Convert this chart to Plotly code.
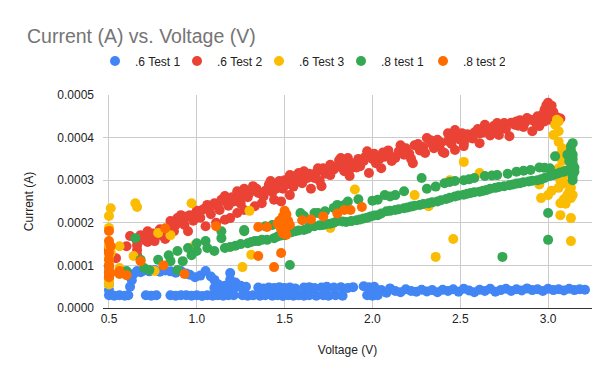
import plotly.graph_objects as go

# ---------------- data (Voltage V, Current A) ----------------
blue_pts = [
    (0.50, 3.0e-5), (0.50, 4.2e-5), (0.50, 5.6e-5), (0.50, 7.0e-5), (0.50, 8.4e-5), (0.50, 9.8e-5), (0.50, 1.45e-4),
    (0.53, 2.9e-5), (0.56, 3.0e-5), (0.59, 2.9e-5), (0.61, 3.0e-5),
    (0.71, 3.0e-5), (0.74, 2.9e-5), (0.77, 3.0e-5),
    (0.85, 3.0e-5), (0.88, 2.9e-5), (0.91, 3.0e-5), (0.94, 3.0e-5), (0.97, 2.9e-5), (1.00, 3.0e-5),
    (1.03, 2.8e-5), (1.06, 3.0e-5), (1.09, 2.9e-5), (1.12, 3.0e-5), (1.15, 2.9e-5), (1.18, 3.0e-5),
    (1.21, 3.0e-5), (1.26, 3.0e-5), (1.29, 2.9e-5), (1.32, 3.0e-5), (1.36, 2.9e-5), (1.39, 3.0e-5),
    (1.43, 2.9e-5), (1.46, 3.0e-5), (1.49, 2.8e-5), (1.52, 3.0e-5), (1.55, 2.9e-5),
    (1.58, 3.0e-5), (1.61, 2.9e-5), (1.64, 3.0e-5), (1.68, 2.9e-5), (1.72, 3.0e-5), (1.75, 2.9e-5),
    (1.79, 3.0e-5), (1.83, 2.9e-5), (1.97, 3.0e-5), (2.00, 2.9e-5), (2.03, 3.0e-5),
    (1.10, 4.7e-5), (1.14, 4.8e-5), (1.18, 4.6e-5), (1.22, 4.8e-5), (1.26, 4.7e-5),
    (1.35, 4.8e-5), (1.38, 4.6e-5), (1.41, 4.8e-5), (1.44, 4.7e-5), (1.47, 4.9e-5), (1.50, 4.7e-5),
    (1.53, 4.8e-5), (1.56, 4.6e-5), (1.61, 4.8e-5), (1.64, 4.9e-5), (1.67, 4.7e-5), (1.71, 4.8e-5),
    (1.74, 5.0e-5), (1.78, 4.8e-5), (1.82, 4.9e-5), (1.86, 4.7e-5), (1.89, 4.9e-5),
    (1.95, 5.1e-5), (1.98, 4.9e-5), (2.01, 5.0e-5),
    (2.05, 4.2e-5), (2.08, 3.6e-5), (2.10, 4.6e-5), (2.13, 4.0e-5), (2.16, 3.7e-5), (2.19, 4.4e-5),
    (2.22, 4.0e-5), (2.25, 3.8e-5), (2.28, 4.3e-5), (2.31, 3.9e-5), (2.34, 4.2e-5), (2.37, 3.7e-5),
    (2.40, 4.3e-5), (2.43, 4.0e-5), (2.46, 4.4e-5), (2.49, 3.8e-5), (2.52, 4.5e-5), (2.55, 4.1e-5),
    (2.58, 3.7e-5), (2.61, 4.3e-5), (2.64, 4.0e-5), (2.67, 4.5e-5), (2.70, 3.8e-5), (2.73, 4.2e-5),
    (2.76, 4.5e-5), (2.79, 4.0e-5), (2.82, 4.4e-5), (2.85, 4.1e-5), (2.88, 4.6e-5), (2.91, 4.2e-5),
    (2.94, 4.4e-5), (2.97, 4.0e-5), (3.00, 4.5e-5), (3.03, 4.2e-5), (3.06, 4.4e-5), (3.09, 4.1e-5),
    (3.12, 4.5e-5), (3.15, 4.2e-5), (3.18, 4.4e-5), (3.21, 4.3e-5),
    (0.62, 5.0e-5), (0.63, 6.5e-5), (0.64, 8.0e-5), (0.66, 8.7e-5), (0.68, 8.4e-5), (0.70, 8.8e-5),
    (0.73, 8.6e-5), (0.76, 8.9e-5), (0.79, 8.5e-5), (0.82, 8.8e-5), (0.85, 8.6e-5), (0.88, 8.3e-5),
    (0.91, 8.7e-5), (0.94, 8.1e-5), (0.96, 7.8e-5), (0.99, 7.2e-5), (1.02, 7.6e-5), (1.05, 8.7e-5),
    (1.08, 7.4e-5), (1.10, 6.6e-5), (1.12, 5.6e-5), (1.16, 5.2e-5), (1.19, 8.2e-5), (1.19, 6.6e-5),
    (1.22, 6.0e-5), (1.25, 5.2e-5), (1.28, 5.0e-5),
]

red_pts = [
    (0.50, 1.40e-4), (0.50, 1.32e-4), (0.54, 1.17e-4), (0.60, 1.45e-4), (0.62, 1.69e-4), (0.66, 1.57e-4),
    (0.66, 1.47e-4), (0.66, 1.36e-4), (0.66, 1.25e-4), (0.68, 1.71e-4), (0.70, 1.60e-4), (0.72, 1.80e-4),
    (0.74, 1.65e-4), (0.76, 1.57e-4), (0.78, 1.72e-4), (0.80, 1.71e-4), (0.82, 1.62e-4), (0.84, 1.88e-4),
    (0.85, 2.04e-4), (0.87, 1.80e-4), (0.89, 2.11e-4), (0.91, 2.18e-4), (0.93, 1.95e-4), (0.95, 1.80e-4),
    (0.96, 2.18e-4), (0.98, 2.05e-4), (1.00, 2.28e-4), (1.02, 2.12e-4), (1.05, 2.35e-4), (1.05, 1.92e-4),
    (1.06, 2.42e-4), (1.08, 2.20e-4), (1.10, 2.46e-4), (1.11, 2.00e-4), (1.13, 2.30e-4), (1.14, 2.54e-4),
    (1.16, 2.63e-4), (1.16, 2.07e-4), (1.18, 2.40e-4), (1.19, 2.11e-4), (1.21, 2.50e-4), (1.23, 2.23e-4),
    (1.23, 2.74e-4), (1.25, 2.45e-4), (1.27, 2.30e-4), (1.27, 2.80e-4), (1.29, 2.60e-4), (1.32, 2.86e-4),
    (1.33, 2.39e-4), (1.35, 2.70e-4), (1.37, 2.46e-4), (1.39, 2.75e-4), (1.41, 2.89e-4), (1.42, 2.98e-4),
    (1.44, 2.54e-4), (1.45, 2.80e-4), (1.47, 2.98e-4), (1.48, 2.50e-4), (1.49, 2.80e-4), (1.51, 2.90e-4),
    (1.53, 3.12e-4), (1.53, 2.65e-4), (1.55, 3.05e-4), (1.56, 3.10e-4), (1.57, 2.98e-4), (1.58, 3.17e-4),
    (1.60, 2.93e-4), (1.61, 3.21e-4), (1.63, 3.05e-4), (1.65, 2.80e-4), (1.67, 3.05e-4), (1.69, 3.28e-4),
    (1.70, 2.98e-4), (1.71, 2.86e-4), (1.73, 3.15e-4), (1.76, 3.36e-4), (1.76, 3.12e-4), (1.78, 3.25e-4),
    (1.81, 3.47e-4), (1.82, 3.52e-4), (1.83, 3.28e-4), (1.84, 3.21e-4), (1.86, 3.52e-4), (1.87, 3.10e-4),
    (1.89, 3.40e-4), (1.91, 3.30e-4), (1.93, 3.33e-4), (1.95, 3.45e-4), (1.97, 3.68e-4), (1.98, 3.17e-4),
    (2.00, 3.50e-4), (2.02, 3.40e-4), (2.05, 3.28e-4), (2.07, 3.55e-4), (2.09, 3.70e-4), (2.11, 3.45e-4),
    (2.13, 3.52e-4), (2.16, 3.82e-4), (2.18, 3.60e-4), (2.20, 3.64e-4), (2.22, 3.50e-4), (2.23, 3.40e-4),
    (2.24, 3.82e-4), (2.27, 3.70e-4), (2.30, 3.64e-4), (2.31, 3.99e-4), (2.33, 3.94e-4), (2.35, 3.75e-4),
    (2.38, 3.80e-4), (2.40, 3.66e-4), (2.41, 3.64e-4), (2.43, 3.92e-4), (2.43, 4.10e-4), (2.45, 4.06e-4),
    (2.47, 3.71e-4), (2.47, 4.18e-4), (2.48, 4.00e-4), (2.51, 4.10e-4), (2.52, 3.80e-4), (2.52, 3.87e-4),
    (2.55, 4.00e-4), (2.58, 4.12e-4), (2.61, 4.10e-4), (2.61, 3.87e-4), (2.64, 4.30e-4), (2.65, 4.18e-4),
    (2.67, 4.05e-4), (2.69, 4.27e-4), (2.71, 4.34e-4), (2.72, 4.06e-4), (2.75, 4.34e-4), (2.76, 4.20e-4),
    (2.78, 4.03e-4), (2.81, 4.30e-4), (2.82, 4.38e-4), (2.84, 4.41e-4), (2.86, 4.25e-4), (2.88, 4.46e-4),
    (2.91, 4.15e-4), (2.92, 4.40e-4), (2.94, 4.50e-4), (2.95, 4.27e-4), (2.97, 4.55e-4), (2.98, 4.65e-4),
    (2.98, 4.38e-4), (2.99, 4.76e-4), (3.00, 4.60e-4), (3.01, 4.58e-4), (3.01, 4.70e-4), (3.02, 4.41e-4),
    (3.03, 4.52e-4), (3.05, 4.38e-4), (3.05, 4.48e-4), (3.07, 4.45e-4), (3.00, 4.82e-4), (3.02, 4.75e-4),
    (3.01, 4.68e-4), (2.99, 4.55e-4), (3.03, 4.60e-4),
    (0.72, 1.55e-4), (0.75, 1.75e-4), (0.79, 1.85e-4), (0.83, 1.78e-4), (0.88, 1.95e-4), (0.92, 2.05e-4),
    (0.94, 2.14e-4), (0.99, 2.20e-4), (1.03, 2.30e-4), (1.07, 2.30e-4), (1.12, 2.38e-4), (1.17, 2.48e-4),
    (1.20, 2.60e-4), (1.25, 2.62e-4), (1.30, 2.70e-4), (1.34, 2.80e-4), (1.38, 2.62e-4), (1.43, 2.72e-4),
    (1.46, 2.88e-4), (1.50, 3.00e-4), (1.55, 2.85e-4), (1.59, 3.05e-4), (1.64, 3.15e-4), (1.68, 3.18e-4),
    (1.72, 3.28e-4), (1.75, 3.25e-4), (1.80, 3.32e-4), (1.85, 3.40e-4), (1.88, 3.28e-4), (1.92, 3.50e-4),
    (1.96, 3.55e-4), (2.01, 3.62e-4), (2.04, 3.50e-4), (2.06, 3.65e-4), (2.10, 3.58e-4), (2.15, 3.68e-4),
    (2.19, 3.75e-4), (2.21, 3.62e-4), (2.26, 3.85e-4), (2.29, 3.78e-4), (2.34, 3.85e-4), (2.37, 3.95e-4),
    (2.39, 3.88e-4), (2.45, 3.85e-4), (2.50, 3.95e-4), (2.54, 4.08e-4), (2.57, 3.98e-4), (2.60, 4.20e-4),
    (2.63, 4.12e-4), (2.68, 4.15e-4), (2.70, 4.22e-4), (2.74, 4.25e-4), (2.79, 4.35e-4), (2.83, 4.28e-4),
    (2.87, 4.36e-4), (2.90, 4.42e-4), (2.93, 4.35e-4), (2.96, 4.45e-4),
]

yellow_pts = [
    (0.50, 2.16e-4), (0.51, 2.34e-4), (0.50, 1.88e-4), (0.50, 1.45e-4), (0.50, 1.17e-4), (0.50, 1.00e-4),
    (0.50, 0.75e-4), (0.50, 0.63e-4), (0.50, 0.55e-4), (0.51, 1.30e-4), (0.56, 1.45e-4), (0.56, 0.94e-4),
    (0.65, 2.46e-4), (0.66, 2.37e-4), (0.64, 1.22e-4), (0.76, 0.87e-4), (0.78, 1.76e-4), (0.85, 1.71e-4),
    (0.97, 2.46e-4), (0.99, 1.48e-4), (1.26, 0.96e-4), (1.30, 2.28e-4), (1.31, 1.25e-4), (1.76, 1.88e-4),
    (1.90, 2.78e-4), (2.24, 2.65e-4), (2.32, 2.39e-4), (2.44, 3.00e-4), (2.52, 3.43e-4), (2.61, 3.17e-4),
    (2.46, 1.62e-4), (2.36, 1.20e-4),
    (3.04, 4.30e-4), (3.06, 4.15e-4), (3.03, 4.06e-4), (3.06, 3.90e-4), (3.07, 3.60e-4), (3.08, 3.45e-4),
    (3.06, 3.28e-4), (3.09, 3.12e-4), (3.07, 2.98e-4), (3.06, 2.82e-4), (3.13, 2.82e-4), (3.11, 2.65e-4),
    (2.95, 2.90e-4), (2.96, 2.58e-4), (3.00, 2.65e-4), (3.07, 2.46e-4), (3.13, 2.58e-4), (3.07, 2.18e-4),
    (3.13, 2.11e-4), (3.13, 1.57e-4), (3.06, 4.38e-4), (3.05, 4.42e-4), (3.08, 3.75e-4), (3.10, 2.92e-4),
    (3.12, 2.72e-4), (3.14, 2.65e-4), (3.09, 2.55e-4), (3.10, 2.45e-4), (3.02, 2.75e-4),
]

green_pts = [
    (0.50, 0.98e-4), (0.60, 0.87e-4), (0.65, 1.64e-4), (0.68, 1.13e-4), (0.70, 0.94e-4), (0.73, 0.89e-4),
    (0.78, 1.13e-4), (0.84, 1.24e-4), (0.85, 1.10e-4), (0.89, 0.89e-4), (0.89, 1.34e-4), (0.92, 1.10e-4),
    (0.95, 1.41e-4), (0.97, 1.24e-4), (1.00, 1.52e-4), (1.00, 1.34e-4), (1.05, 1.57e-4), (1.06, 1.41e-4),
    (1.10, 1.34e-4), (1.14, 1.64e-4), (1.16, 1.41e-4), (1.14, 1.80e-4), (1.19, 1.43e-4), (1.22, 1.46e-4),
    (1.27, 1.80e-4), (1.29, 1.52e-4), (1.27, 1.83e-4), (1.33, 1.57e-4), (1.35, 1.57e-4), (1.39, 1.92e-4),
    (1.40, 1.60e-4), (1.43, 1.95e-4), (1.44, 1.64e-4), (1.48, 1.70e-4), (1.50, 1.71e-4), (1.52, 1.76e-4),
    (1.53, 1.01e-4), (1.56, 1.80e-4), (1.59, 2.23e-4), (1.61, 1.83e-4), (1.61, 2.16e-4), (1.64, 1.90e-4),
    (1.67, 1.92e-4), (1.67, 2.23e-4), (1.69, 2.23e-4), (1.72, 1.95e-4), (1.73, 2.27e-4), (1.76, 1.98e-4),
    (1.78, 2.35e-4), (1.80, 2.04e-4), (1.80, 2.42e-4), (1.84, 2.42e-4), (1.85, 2.02e-4), (1.86, 2.50e-4),
    (1.91, 2.06e-4), (1.92, 2.55e-4), (1.95, 2.10e-4), (1.99, 2.15e-4), (2.03, 2.18e-4), (2.03, 2.54e-4),
    (2.07, 2.65e-4), (2.08, 2.27e-4), (2.13, 2.30e-4), (2.13, 2.65e-4), (2.18, 2.34e-4), (2.18, 2.74e-4),
    (2.22, 2.38e-4), (2.27, 2.42e-4), (2.28, 3.05e-4), (2.31, 2.80e-4), (2.32, 2.46e-4), (2.36, 2.85e-4),
    (2.37, 2.50e-4), (2.41, 2.93e-4), (2.42, 2.56e-4), (2.47, 2.62e-4), (2.47, 2.98e-4), (2.52, 2.66e-4),
    (2.52, 3.00e-4), (2.56, 2.70e-4), (2.58, 3.05e-4), (2.61, 2.73e-4), (2.64, 3.10e-4), (2.65, 2.77e-4),
    (2.70, 2.82e-4), (2.71, 3.12e-4), (2.75, 2.86e-4), (2.77, 3.15e-4), (2.80, 2.90e-4), (2.82, 3.20e-4),
    (2.84, 2.93e-4), (2.89, 2.97e-4), (2.90, 3.24e-4), (2.94, 3.00e-4), (2.95, 3.30e-4), (2.98, 3.05e-4),
    (3.01, 3.10e-4), (3.01, 3.28e-4), (3.05, 3.15e-4), (3.09, 3.20e-4), (3.12, 3.25e-4), (3.04, 3.56e-4),
    (3.14, 3.00e-4), (3.14, 3.10e-4), (3.15, 3.20e-4), (3.15, 3.30e-4), (3.14, 3.40e-4), (3.14, 3.50e-4),
    (3.14, 3.60e-4), (3.13, 3.70e-4), (3.13, 3.80e-4), (3.14, 3.87e-4), (3.11, 3.60e-4), (3.12, 3.45e-4),
    (3.00, 2.23e-4), (3.00, 1.60e-4), (2.74, 1.20e-4),
    (1.25, 1.50e-4), (1.31, 1.55e-4), (1.37, 1.60e-4), (1.46, 1.68e-4), (1.54, 1.78e-4), (1.58, 1.82e-4),
    (1.63, 1.86e-4), (1.70, 1.94e-4), (1.74, 1.97e-4), (1.78, 2.00e-4), (1.83, 2.03e-4), (1.88, 2.04e-4),
    (1.93, 2.08e-4), (1.97, 2.12e-4), (2.01, 2.17e-4), (2.05, 2.22e-4), (2.10, 2.28e-4), (2.15, 2.32e-4),
    (2.20, 2.36e-4), (2.24, 2.40e-4), (2.29, 2.44e-4), (2.34, 2.48e-4), (2.39, 2.53e-4), (2.44, 2.59e-4),
    (2.49, 2.64e-4), (2.54, 2.68e-4), (2.58, 2.72e-4), (2.63, 2.75e-4), (2.67, 2.80e-4), (2.72, 2.84e-4),
    (2.78, 2.88e-4), (2.82, 2.92e-4), (2.86, 2.95e-4), (2.91, 2.99e-4), (2.96, 3.02e-4), (3.03, 3.12e-4),
    (3.07, 3.18e-4), (3.10, 3.22e-4),
    (2.00, 2.52e-4), (2.10, 2.62e-4), (2.44, 2.96e-4), (2.55, 3.02e-4), (2.68, 3.11e-4), (2.86, 3.22e-4),
    (2.98, 3.29e-4),
]

orange_pts = [
    (0.50, 1.81e-4), (0.50, 1.57e-4), (0.51, 1.45e-4), (0.50, 1.29e-4), (0.50, 1.13e-4), (0.50, 1.00e-4),
    (0.50, 0.87e-4), (0.50, 0.78e-4), (0.50, 0.72e-4), (0.51, 0.82e-4), (0.56, 0.87e-4), (0.56, 0.80e-4),
    (0.60, 0.77e-4), (0.68, 1.10e-4), (0.81, 1.00e-4), (0.82, 1.87e-4), (0.93, 0.80e-4), (1.11, 1.92e-4),
    (1.35, 1.90e-4), (1.40, 1.90e-4), (1.35, 1.22e-4), (1.44, 0.96e-4), (1.48, 1.29e-4),
    (1.47, 2.05e-4), (1.48, 1.95e-4), (1.49, 2.15e-4), (1.50, 2.28e-4), (1.50, 1.85e-4), (1.51, 2.20e-4),
    (1.49, 1.75e-4), (1.51, 1.90e-4), (1.52, 2.05e-4), (1.50, 2.00e-4), (1.48, 1.85e-4), (1.46, 1.98e-4),
    (1.53, 1.95e-4), (1.51, 1.72e-4), (1.50, 2.12e-4),
    (1.60, 2.06e-4), (1.65, 2.08e-4), (1.72, 2.15e-4), (1.80, 2.22e-4), (1.84, 2.30e-4), (1.875, 2.30e-4),
    (1.94, 2.37e-4),
]

series_names = [".6 Test 1", ".6 Test 2", ".6 Test 3", ".8 test 1", ".8 test 2"]
series_points = [blue_pts, red_pts, yellow_pts, green_pts, orange_pts]
series_colors = ["#4285F4", "#EA4335", "#FBBC04", "#34A853", "#FF6D01"]

x_ticks = [0.5, 1.0, 1.5, 2.0, 2.5, 3.0]
x_ticklabels = ["0.5", "1.0", "1.5", "2.0", "2.5", "3.0"]

FONT = "Arial, Liberation Sans, sans-serif"

fig = go.Figure()
for name, pts, col in zip(series_names, series_points, series_colors):
    fig.add_trace(go.Scatter(
        x=[p[0] for p in pts], y=[p[1] for p in pts], name=name, mode="markers",
        marker=dict(color=col, size=10, line=dict(width=0)),
    ))

fig.update_layout(
    width=600, height=371,
    margin=dict(l=95, r=16, t=87, b=71),
    paper_bgcolor="white", plot_bgcolor="white",
    font=dict(family=FONT, size=12, color="#222222"),
    title=dict(text="Current (A) vs. Voltage (V)", x=19 / 600, xanchor="left",
               y=1 - 28 / 371, yanchor="middle", yref="container",
               font=dict(size=19.5, color="#757575", family=FONT)),
    legend=dict(orientation="h", x=-8 / 489, xanchor="left", y=(300 - 53) / 213, yanchor="middle",
                font=dict(size=12, color="#222222"), itemclick=False, bgcolor="rgba(0,0,0,0)",
                entrywidth=37, entrywidthmode="pixels"),
    showlegend=True,
)
fig.update_xaxes(
    range=[0.466, 3.25], tickvals=x_ticks, ticktext=x_ticklabels,
    showgrid=True, gridcolor="#cccccc", gridwidth=1, zeroline=False,
    showline=True, linecolor="#333333", linewidth=1, ticks="",
    tickfont=dict(size=12, color="#222222"),
    title=dict(text="Voltage (V)", font=dict(size=12, color="#222222"), standoff=20),
)
fig.update_yaxes(
    range=[0, 0.0005], dtick=0.0001, tickformat=".4f",
    showgrid=True, gridcolor="#cccccc", gridwidth=1, zeroline=False,
    showline=False, ticks="", ticklabelstandoff=8,
    tickfont=dict(size=12, color="#222222"),
    title=dict(text="Current (A)", font=dict(size=12, color="#222222"), standoff=21),
)

fig.write_html("out.html")
